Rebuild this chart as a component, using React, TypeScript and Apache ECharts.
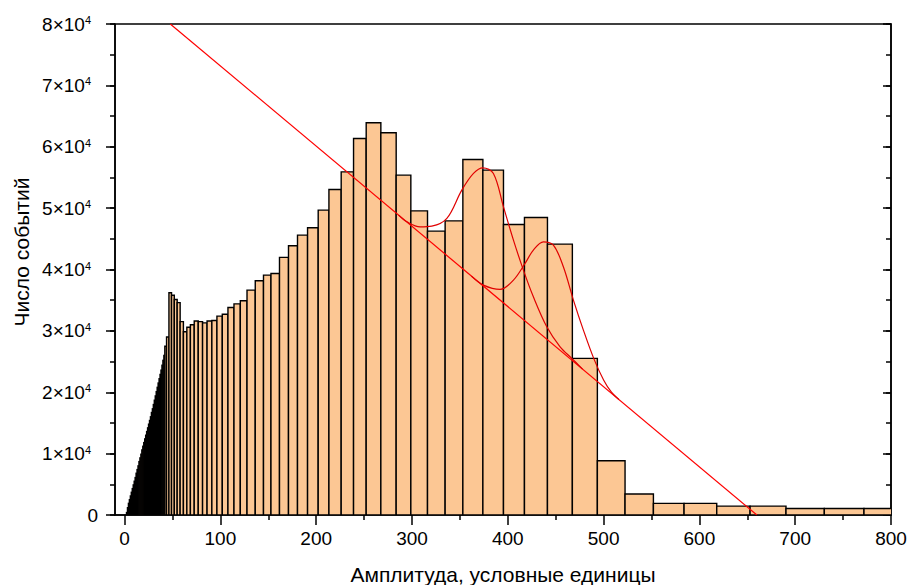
import React, { useEffect, useRef } from "react";
import * as echarts from "echarts";

// Histogram bin edges (amplitude, conventional units) and counts per bin
const binEdges: number[] = [
  2, 3, 4, 5, 6, 7, 8, 9, 10, 11, 12, 13, 14, 15, 16, 17, 18, 19, 20, 21,
  22, 23, 24, 25, 26, 27, 28, 29, 30, 31, 32, 33, 34, 35, 36, 37, 38, 39, 40, 41, 42,
  43.8, 46.3, 49.0, 51.9, 54.9, 58.0, 61.4, 65.0, 68.7, 72.7,
  76.9, 81.4, 86.1, 91.1, 96.4, 102.0, 107.9, 114.2, 120.8, 127.8,
  136.4, 145.0, 152.8, 161.7, 171.1, 180.5, 191.0, 202.1, 213.3, 226.1,
  239.0, 252.2, 267.5, 283.5, 298.8, 316.2, 334.6, 353.1, 374.0, 395.5,
  417.4, 441.4, 467.4, 493.5, 522.4, 552.0, 584.0, 618.1, 652.9, 690.4,
  730.4, 771.8, 816.0,
];

const counts: number[] = [
  400, 1200, 1900, 2500, 3100, 3700, 4300, 4900, 5500, 6100,
  6800, 7400, 8000, 8700, 9300, 9900, 10600, 11200, 11800, 12400,
  13000, 13600, 14200, 14800, 15400, 16000, 16700, 17300, 18000, 18700,
  19400, 20100, 20800, 21500, 22200, 22900, 23600, 24400, 25200, 26000,
  27500,
  29000, 36200, 35800, 35100, 34600, 31500, 29850, 30600, 31000, 31600,
  31500, 31300, 31600, 31700, 32400, 32700, 33800, 34400, 34900, 36640,
  38160, 39090, 39360, 41970, 43860, 45600, 46800, 49670, 53040, 55910,
  61350, 63900, 62270, 55370, 49560, 46250, 47930, 57930, 56190, 47340,
  48480, 44140, 25520, 8850, 3420, 1900, 1900, 1450, 1450, 1050,
  1050, 1050,
];

// Linear background fit
const backgroundLine: [number, number][] = [
  [47.7, 80000],
  [660, 0],
];

// Background + first Gaussian
const fitPeak1: [number, number][] = [
  [286, 48860], [294.7, 47770], [308.5, 46950], [320.7, 47070], [336.4, 48320],
  [352, 52930], [364.2, 55650], [374, 56560], [385, 55650], [395.5, 50210],
  [405.9, 44790], [416.3, 39900], [426.7, 35550], [440.7, 30670], [454.6, 27410],
  [466.8, 25520], [478, 23780],
];

// Background + second Gaussian
const fitPeak2: [number, number][] = [
  [362, 38930], [374.6, 37460], [392, 36760], [405.9, 38270], [418, 40990],
  [426.7, 43160], [437.2, 44510], [447.6, 43970], [458, 40440], [468.5, 35020],
  [478.9, 30130], [490, 25400], [500, 22000], [508, 20050], [516, 18830],
];

const xMajorTicks = [0, 100, 200, 300, 400, 500, 600, 700, 800];
const xMinorTicks = [50, 150, 250, 350, 450, 550, 650, 750];

const FONT = '"Liberation Sans", Arial, sans-serif';

export default function App() {
  const ref = useRef<HTMLDivElement>(null);

  useEffect(() => {
    document.body.style.margin = "0";
    if (!ref.current) return;
    const chart = echarts.init(ref.current, null, { renderer: "svg" });

    const histData = counts.map((c, i) => [binEdges[i], binEdges[i + 1], c]);

    const axisLineStyle = { color: "#000", width: 1.5 };

    const yBase = {
      type: "value",
      min: 0,
      max: 80000,
      splitLine: { show: false },
      minorTick: { show: false },
    };

    const option: any = {
      animation: false,
      grid: {
        left: 115,
        right: 21,
        top: 24,
        bottom: 70,
        containLabel: false,
        outerBoundsMode: "none",
        show: true,
        borderColor: "#000",
        borderWidth: 1.5,
        backgroundColor: "transparent",
      },
      xAxis: [
        {
          type: "value",
          min: -10,
          max: 800,
          position: "bottom",
          axisLine: { show: true, onZero: false, lineStyle: axisLineStyle },
          axisTick: {
            show: true,
            length: 10,
            lineStyle: axisLineStyle,
            customValues: xMajorTicks,
          },
          axisLabel: {
            show: true,
            customValues: xMajorTicks,
            margin: 14,
            color: "#000",
            fontSize: 19,
            fontFamily: FONT,
          },
          splitLine: { show: false },
          name: "Амплитуда, условные единицы",
          nameLocation: "middle",
          nameGap: 49,
          nameTextStyle: { color: "#000", fontSize: 21, fontFamily: FONT },
        },
        {
          type: "value",
          min: -10,
          max: 800,
          position: "bottom",
          axisLine: { show: false, onZero: false },
          axisTick: {
            show: true,
            length: 5,
            lineStyle: axisLineStyle,
            customValues: xMinorTicks,
          },
          axisLabel: { show: false },
          splitLine: { show: false },
        },
      ],
      yAxis: [
        {
          ...yBase,
          interval: 10000,
          position: "left",
          axisLine: { show: true, onZero: false, lineStyle: axisLineStyle },
          axisTick: { show: true, length: 9, lineStyle: axisLineStyle },
          axisLabel: {
            margin: 17,
            formatter: (v: number) =>
              v === 0 ? "{a|0}" : `{a|${v / 10000}×10}{b|4}`,
            rich: {
              a: { fontSize: 19, fontFamily: FONT, color: "#000" },
              b: {
                fontSize: 11,
                fontFamily: FONT,
                color: "#000",
                verticalAlign: "top",
                padding: [0, 7, 0, 0],
              },
            },
          },
        },
        {
          ...yBase,
          interval: 5000,
          position: "left",
          axisLine: { show: false, onZero: false },
          axisTick: { show: true, length: 5, lineStyle: axisLineStyle },
          axisLabel: { show: false },
        },
        {
          ...yBase,
          interval: 10000,
          position: "right",
          axisLine: { show: true, onZero: false, lineStyle: axisLineStyle },
          axisTick: { show: true, inside: true, length: 8, lineStyle: axisLineStyle },
          axisLabel: { show: false },
        },
        {
          ...yBase,
          interval: 5000,
          position: "right",
          axisLine: { show: false, onZero: false },
          axisTick: { show: true, inside: true, length: 5, lineStyle: axisLineStyle },
          axisLabel: { show: false },
        },
      ],
      graphic: [
        {
          type: "text",
          x: 21,
          y: 252,
          rotation: Math.PI / 2,
          style: {
            text: "Число событий",
            fontSize: 21,
            fontFamily: FONT,
            fill: "#000",
            align: "center",
            verticalAlign: "middle",
            textAlign: "center",
            textVerticalAlign: "middle",
          },
        },
      ],
      series: [
        {
          type: "custom",
          xAxisIndex: 0,
          yAxisIndex: 0,
          clip: true,
          data: histData,
          encode: { x: [0, 1], y: 2 },
          renderItem: (params: any, api: any) => {
            const x0 = api.value(0);
            const x1 = api.value(1);
            const h = api.value(2);
            const p0 = api.coord([x0, h]);
            const p1 = api.coord([x1, 0]);
            return {
              type: "rect",
              shape: {
                x: p0[0],
                y: p0[1],
                width: p1[0] - p0[0],
                height: p1[1] - p0[1],
              },
              style: { fill: "#FCC794", stroke: "#000", lineWidth: 1.4 },
            };
          },
        },
        {
          type: "line",
          xAxisIndex: 0,
          yAxisIndex: 0,
          data: backgroundLine,
          showSymbol: false,
          lineStyle: { color: "#FF0000", width: 1.2 },
          clip: true,
        },
        {
          type: "line",
          xAxisIndex: 0,
          yAxisIndex: 0,
          data: fitPeak1,
          smooth: 0.35,
          showSymbol: false,
          lineStyle: { color: "#E00000", width: 1.2 },
          clip: true,
        },
        {
          type: "line",
          xAxisIndex: 0,
          yAxisIndex: 0,
          data: fitPeak2,
          smooth: 0.35,
          showSymbol: false,
          lineStyle: { color: "#E00000", width: 1.2 },
          clip: true,
        },
      ],
    };

    chart.setOption(option);
    return () => chart.dispose();
  }, []);

  return <div ref={ref} style={{ width: 912, height: 585 }} />;
}
